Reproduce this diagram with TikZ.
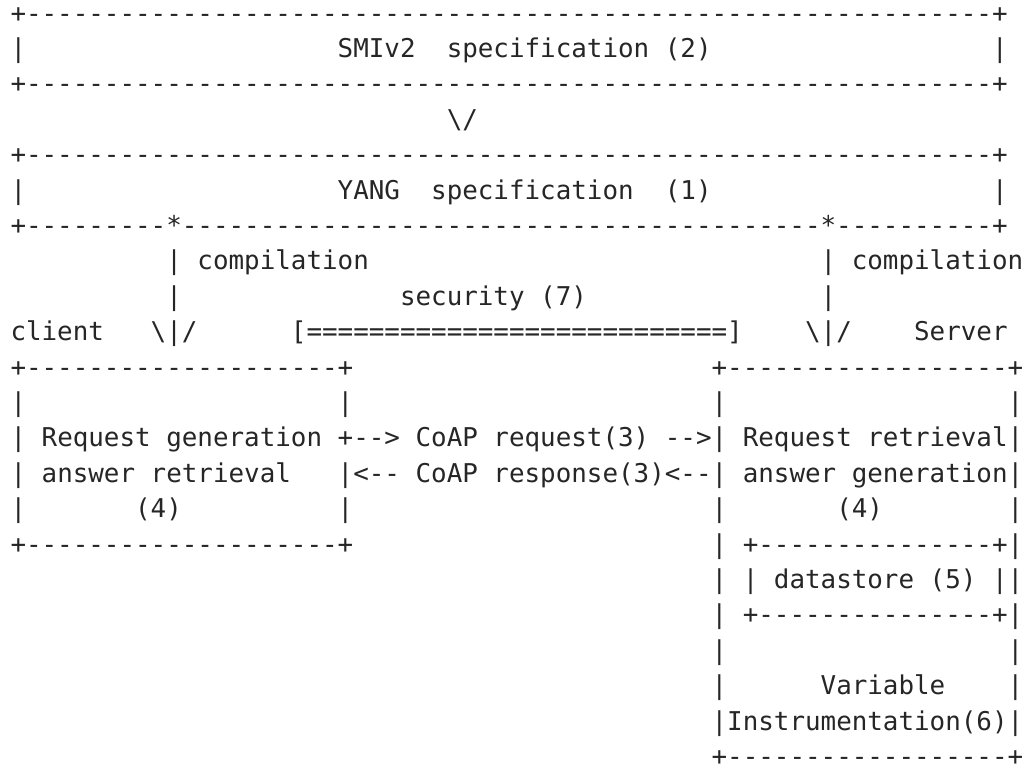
\documentclass[tikz,border=0pt]{standalone}
\usepackage{fontspec}
\setmonofont{DejaVu Sans Mono}
\definecolor{ink}{HTML}{262626}
\newcommand\chrun[2]{\ifnum#1>0 #2\expandafter\chrun\expandafter{\number\numexpr#1-1\relax}{#2}\fi}
\tikzset{cell/.style={anchor=base west, inner sep=0pt, outer sep=0pt, text=ink,
  font=\ttfamily\fontsize{25.88pt}{35.4pt}\selectfont}}

\begin{document}
\begin{tikzpicture}[x=15.58pt, y=-35.4pt]
  \fill[white] (-10.51pt, 22pt) rectangle (1015.49pt, -750pt);
  \useasboundingbox (-10.51pt, 22pt) rectangle (1015.49pt, -750pt);
  \clip (-10.51pt, 22pt) rectangle (1015.49pt, -750pt);
  \node[cell] (smitop) at (0,0) {+\chrun{62}{-}+};
  \node[cell] (smil) at (0,1) {|};
  \node[cell] (smi) at (21,1) {SMIv2};
  \node[cell] (smispec) at (28,1) {specification};
  \node[cell] (smino) at (42,1) {(2)};
  \node[cell] (smir) at (63,1) {|};
  \node[cell] (smibot) at (0,2) {+\chrun{62}{-}+};
  \node[cell] (down) at (28,3) {\textbackslash/};
  \node[cell] (yangtop) at (0,4) {+\chrun{62}{-}+};
  \node[cell] (yangl) at (0,5) {|};
  \node[cell] (yang) at (21,5) {YANG};
  \node[cell] (yangspec) at (27,5) {specification};
  \node[cell] (yangno) at (42,5) {(1)};
  \node[cell] (yangr) at (63,5) {|};
  \node[cell] (yangbot) at (0,6) {+\chrun{9}{-}*\chrun{41}{-}*\chrun{10}{-}+};
  \node[cell] (cpipe1) at (10,7) {|};
  \node[cell] (ccomp) at (12,7) {compilation};
  \node[cell] (spipe1) at (52,7) {|};
  \node[cell] (scomp) at (54,7) {compilation};
  \node[cell] (cpipe2) at (10,8) {|};
  \node[cell] (sec) at (25,8) {security};
  \node[cell] (secno) at (34,8) {(7)};
  \node[cell] (spipe2) at (52,8) {|};
  \node[cell] (client) at (0,9) {client};
  \node[cell] (cdown) at (9,9) {\textbackslash|/};
  \node[cell] (secbar) at (18,9) {[\chrun{27}{=}]};
  \node[cell] (sdown) at (51,9) {\textbackslash|/};
  \node[cell] (server) at (58,9) {Server};
  \node[cell] (ctop) at (0,10) {+\chrun{20}{-}+};
  \node[cell] (stop) at (45,10) {+\chrun{18}{-}+};
  \node[cell] (cl3) at (0,11) {|};
  \node[cell] (cr3) at (21,11) {|};
  \node[cell] (sl3) at (45,11) {|};
  \node[cell] (sr3) at (64,11) {|};
  \node[cell] (cl4) at (0,12) {|};
  \node[cell] (cgen) at (2,12) {Request generation};
  \node[cell] (reqout) at (21,12) {+-->};
  \node[cell] (req) at (26,12) {CoAP request(3)};
  \node[cell] (reqin) at (42,12) {-->|};
  \node[cell] (sret) at (47,12) {Request retrieval|};
  \node[cell] (cl5) at (0,13) {|};
  \node[cell] (cret) at (2,13) {answer retrieval};
  \node[cell] (respin) at (21,13) {|<--};
  \node[cell] (resp) at (26,13) {CoAP response(3)<--|};
  \node[cell] (sgen) at (47,13) {answer generation|};
  \node[cell] (cl6) at (0,14) {|};
  \node[cell] (cno) at (8,14) {(4)};
  \node[cell] (cr6) at (21,14) {|};
  \node[cell] (sl6) at (45,14) {|};
  \node[cell] (sno) at (53,14) {(4)};
  \node[cell] (sr6) at (64,14) {|};
  \node[cell] (cbot) at (0,15) {+\chrun{20}{-}+};
  \node[cell] (sl7) at (45,15) {|};
  \node[cell] (dstop) at (47,15) {+\chrun{15}{-}+|};
  \node[cell] (sl8) at (45,16) {|};
  \node[cell] (dsl) at (47,16) {|};
  \node[cell] (ds) at (49,16) {datastore (5)};
  \node[cell] (dsr) at (63,16) {||};
  \node[cell] (sl9) at (45,17) {|};
  \node[cell] (dsbot) at (47,17) {+\chrun{15}{-}+|};
  \node[cell] (sl10) at (45,18) {|};
  \node[cell] (sr10) at (64,18) {|};
  \node[cell] (sl11) at (45,19) {|};
  \node[cell] (var) at (52,19) {Variable};
  \node[cell] (sr11) at (64,19) {|};
  \node[cell] (instr) at (45,20) {|Instrumentation(6)|};
  \node[cell] (sbot) at (45,21) {+\chrun{18}{-}+};
\end{tikzpicture}
\end{document}
